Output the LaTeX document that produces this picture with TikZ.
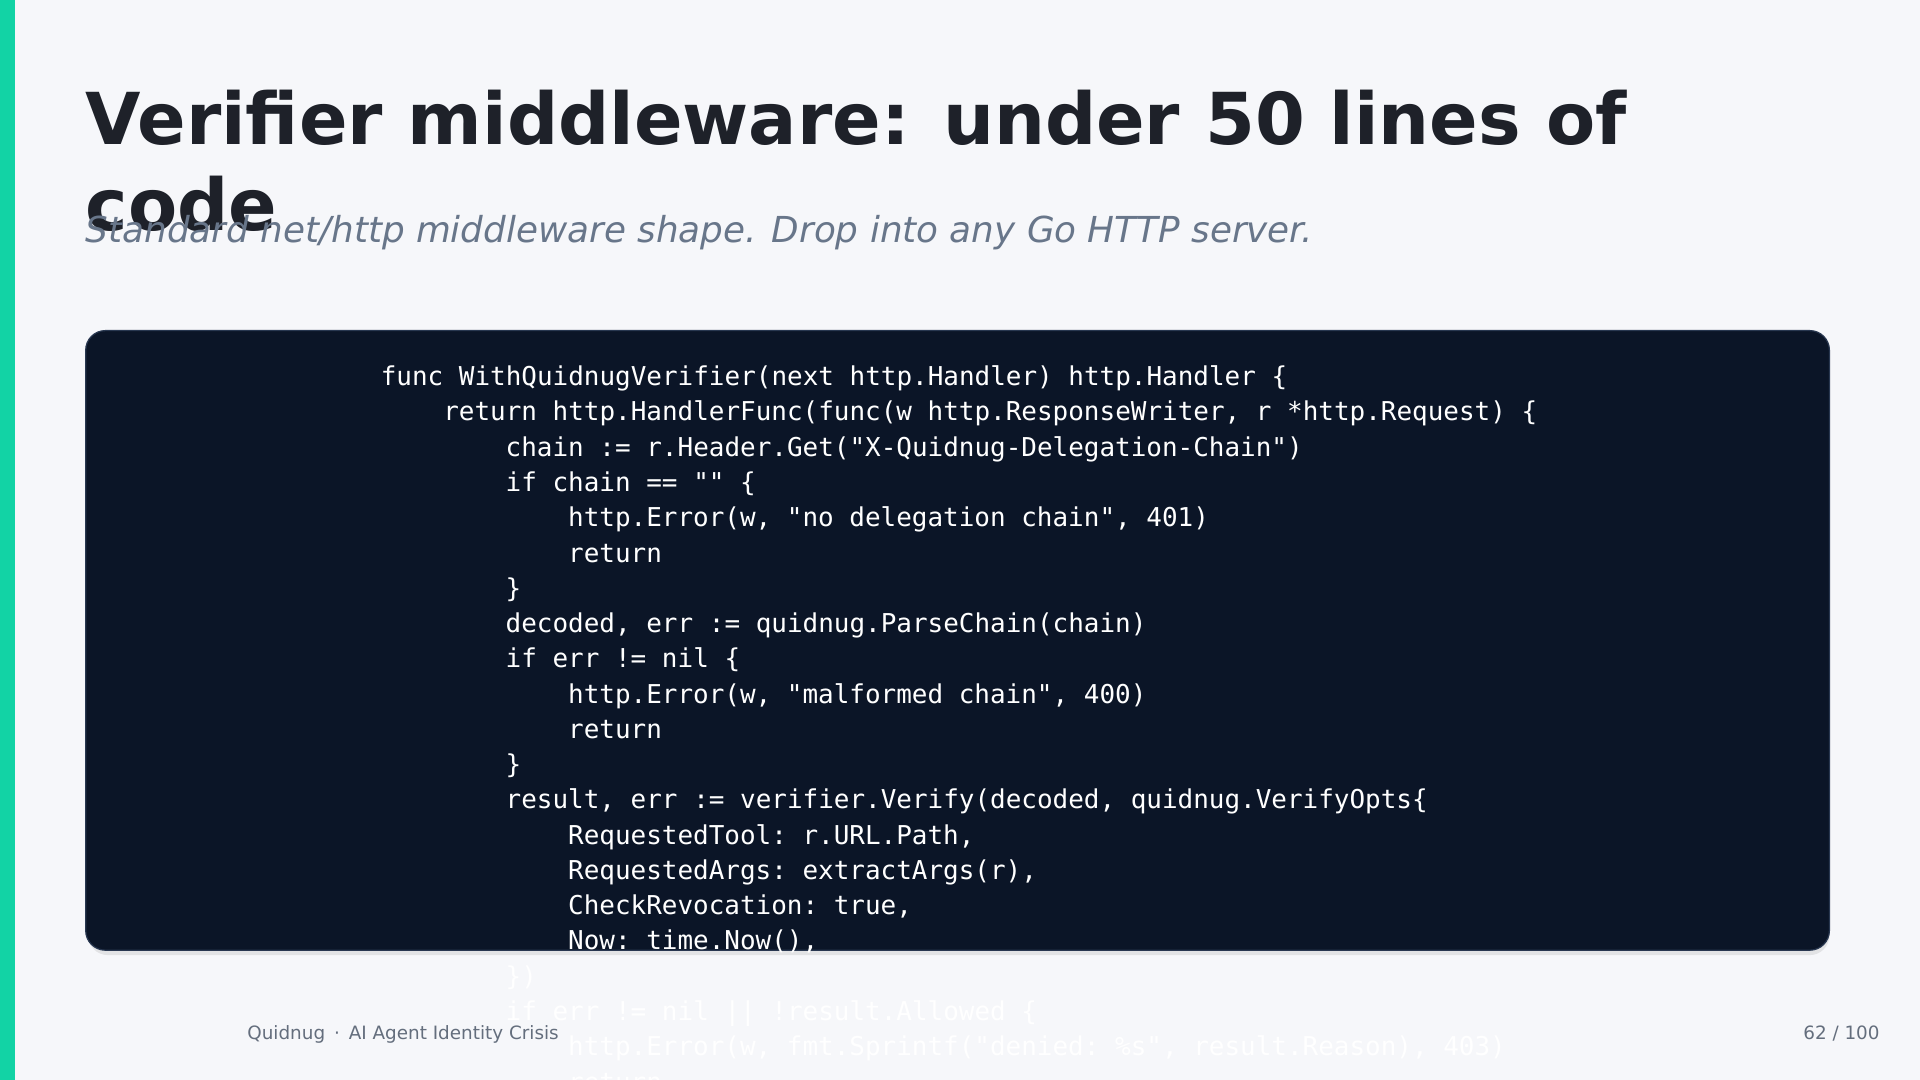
\documentclass[tikz,border=0pt]{standalone}
\usepackage{fontspec}
\setmainfont{DejaVu Sans}
\setmonofont{DejaVu Sans Mono}
\begin{document}
\begin{tikzpicture}[x=1pt,y=1pt]
\definecolor{bgColor}{RGB}{246,247,250}
\definecolor{accentColor}{RGB}{18,211,165}
\definecolor{titleColor}{RGB}{30,33,41}
\definecolor{subColor}{RGB}{104,118,138}
\definecolor{codeBg}{RGB}{11,21,39}
\definecolor{codeBorder}{RGB}{40,55,80}
\definecolor{footColor}{RGB}{100,110,125}
\tikzset{
  code/.style={text=white,anchor=base west,inner sep=0pt,outer sep=0pt,font=\ttfamily\fontsize{21.2}{24}\selectfont},
  foot/.style={text=footColor,inner sep=0pt,outer sep=0pt,font=\fontsize{15}{18}\selectfont}
}
\path[use as bounding box,fill=bgColor] (0,0) rectangle (1568,882);
\begin{scope}
\path[clip] (0,0) rectangle (1568,882);
\path[fill=accentColor] (0,0) rectangle (12,882);

% title and subtitle
\node[text=titleColor,anchor=base west,inner sep=0pt,font=\bfseries\fontsize{58.5}{70}\selectfont] (title1) at (70,764) {Verifier middleware: under 50 lines of};
\node[text=titleColor,anchor=base west,inner sep=0pt,font=\bfseries\fontsize{58.5}{70}\selectfont] (title2) at (70,694) {code};
\node[text=subColor,anchor=base west,inner sep=0pt,font=\itshape\fontsize{29.2}{34}\selectfont] (subtitle) at (70,684) {Standard net/http middleware shape. Drop into any Go HTTP server.};

% code panel
\path[fill=black!25,opacity=0.35,rounded corners=16pt] (72,102) rectangle (1494,608);
\path[draw=codeBorder,line width=1pt,fill=codeBg,rounded corners=16pt] (70,106) rectangle (1494,612);

\node[code] (l0) at (311,567.0) {func WithQuidnugVerifier(next http.Handler) http.Handler \{};
\node[code] (l1) at (362,538.2) {return http.HandlerFunc(func(w http.ResponseWriter, r *http.Request) \{};
\node[code] (l2) at (413,509.4) {chain := r.Header.Get("X-Quidnug-Delegation-Chain")};
\node[code] (l3) at (413,480.6) {if chain == "" \{};
\node[code] (l4) at (464,451.8) {http.Error(w, "no delegation chain", 401)};
\node[code] (l5) at (464,423.0) {return};
\node[code] (l6) at (413,394.2) {\}};
\node[code] (l7) at (413,365.4) {decoded, err := quidnug.ParseChain(chain)};
\node[code] (l8) at (413,336.6) {if err != nil \{};
\node[code] (l9) at (464,307.8) {http.Error(w, "malformed chain", 400)};
\node[code] (l10) at (464,279.0) {return};
\node[code] (l11) at (413,250.2) {\}};
\node[code] (l12) at (413,221.4) {result, err := verifier.Verify(decoded, quidnug.VerifyOpts\{};
\node[code] (l13) at (464,192.6) {RequestedTool: r.URL.Path,};
\node[code] (l14) at (464,163.8) {RequestedArgs: extractArgs(r),};
\node[code] (l15) at (464,135.0) {CheckRevocation: true,};
\node[code] (l16) at (464,106.2) {Now: time.Now(),};
\node[code] (l17) at (413,77.4) {\})};
\node[code] (l18) at (413,48.6) {if err != nil || !result.Allowed \{};
\node[code] (l19) at (464,19.8) {http.Error(w, fmt.Sprintf("denied: \%s", result.Reason), 403)};
\node[code] (l20) at (464,-9.0) {return};

% footer
\node[foot,anchor=base west] (footL) at (202,33) {Quidnug \,·\, AI Agent Identity Crisis};
\node[foot,anchor=base east] (footR) at (1535,33) {62 / 100};
\end{scope}
\end{tikzpicture}
\end{document}
